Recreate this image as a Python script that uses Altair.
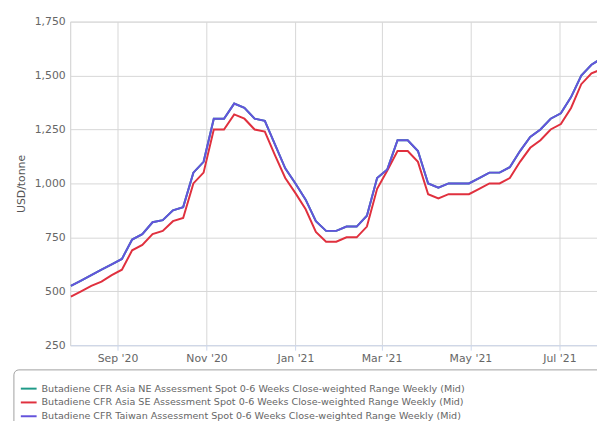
import altair as alt
import pandas as pd

dates = pd.date_range("2020-07-31", periods=53, freq="7D").strftime("%Y-%m-%d").tolist()

taiwan = [525, 550, 575, 600, 625, 650, 740, 765, 820, 830, 875, 890, 1050, 1100,
          1300, 1300, 1370, 1350, 1300, 1290, 1180, 1070, 1000, 925, 825, 780, 780,
          800, 800, 850, 1025, 1065, 1200, 1200, 1150, 1000, 980, 1000, 1000, 1000,
          1025, 1050, 1050, 1075, 1150, 1215, 1250, 1300, 1325, 1400, 1500, 1550, 1580]
asia_ne = [525, 550, 575, 600, 625, 650, 740, 765, 820, 830, 875, 890, 1050, 1100,
           1300, 1300, 1370, 1350, 1300, 1290, 1180, 1070, 1000, 925, 825, 780, 780,
           800, 800, 850, 1025, 1065, 1200, 1200, 1150, 1000, 980, 1000, 1000, 1000,
           1025, 1050, 1050, 1075, 1150, 1215, 1250, 1300, 1325, 1400, 1500, 1550, 1580]
asia_se = [475, 500, 525, 545, 575, 600, 690, 715, 765, 780, 825, 840, 1000, 1050,
           1250, 1250, 1320, 1300, 1250, 1240, 1130, 1025, 955, 880, 775, 730, 730,
           750, 750, 800, 975, 1060, 1150, 1150, 1100, 950, 930, 950, 950, 950,
           975, 1000, 1000, 1025, 1100, 1165, 1200, 1250, 1275, 1350, 1460, 1510, 1530]

names = [
    "Butadiene CFR Asia NE Assessment Spot 0-6 Weeks Close-weighted Range Weekly (Mid)",
    "Butadiene CFR Asia SE Assessment Spot 0-6 Weeks Close-weighted Range Weekly (Mid)",
    "Butadiene CFR Taiwan Assessment Spot 0-6 Weeks Close-weighted Range Weekly (Mid)",
]
colors = ["#1f9a88", "#e0303e", "#6453dc"]

rows = []
for name, vals in zip(names, [asia_ne, asia_se, taiwan]):
    for d, v in zip(dates, vals):
        rows.append({"date": d, "value": v, "series": name})
df = pd.DataFrame(rows)

FONT = "DejaVu Sans"

xticks = [alt.DateTime(year=2020, month=9, date=1, utc=True),
          alt.DateTime(year=2020, month=11, date=1, utc=True),
          alt.DateTime(year=2021, month=1, date=1, utc=True),
          alt.DateTime(year=2021, month=3, date=1, utc=True),
          alt.DateTime(year=2021, month=5, date=1, utc=True),
          alt.DateTime(year=2021, month=7, date=1, utc=True)]

lines = alt.Chart(df).mark_line(strokeWidth=2, clip=True).encode(
    x=alt.X("date:T",
            scale=alt.Scale(type="utc",
                            domain=[alt.DateTime(year=2020, month=7, date=30, hours=12, utc=True),
                                    alt.DateTime(year=2021, month=7, date=26, hours=19, utc=True)]),
            axis=alt.Axis(title=None, values=xticks, format="%b '%y", labelFont=FONT,
                          labelFontSize=11, labelColor="#666666", gridColor="#d6d6d6",
                          domainColor="#ccd6eb", tickColor="#ccd6eb", labelPadding=3)),
    y=alt.Y("value:Q",
            scale=alt.Scale(domain=[250, 1750], nice=False, zero=False),
            axis=alt.Axis(title="USD/tonne", values=[250, 500, 750, 1000, 1250, 1500, 1750],
                          format=",.0f", labelFont=FONT, labelFontSize=11, labelColor="#666666",
                          titleFont=FONT, titleFontSize=11, titleFontWeight="normal",
                          titleColor="#555555", titlePadding=8, gridColor="#d6d6d6",
                          domainColor="#d6d6d6", ticks=False, labelPadding=5)),
    color=alt.Color("series:N",
                    scale=alt.Scale(domain=names, range=colors),
                    legend=alt.Legend(title=None, orient="none", legendX=-51, legendY=363,
                                      symbolType="stroke", symbolStrokeWidth=2,
                                      symbolSize=256, labelFont=FONT, labelFontSize=9.7,
                                      labelColor="#666666", labelLimit=0, rowPadding=0,
                                      labelOffset=4, padding=0)),
)

frame = alt.Chart(pd.DataFrame({"a": [0]})).mark_rect(
    fill="white", stroke="#a0a0a0", strokeWidth=1, cornerRadius=5
).encode(
    x=alt.value(-57), x2=alt.value(560),
    y=alt.value(353), y2=alt.value(440),
)

chart = alt.layer(frame, lines).properties(
    width=534, height=328,
    padding={"left": 63, "top": 11, "right": 0, "bottom": 74},
    autosize=alt.AutoSizeParams(type="none"),
).configure_view(stroke=None).configure(background="white")

chart.save("out.html", embed_options={"renderer": "svg", "actions": False})
